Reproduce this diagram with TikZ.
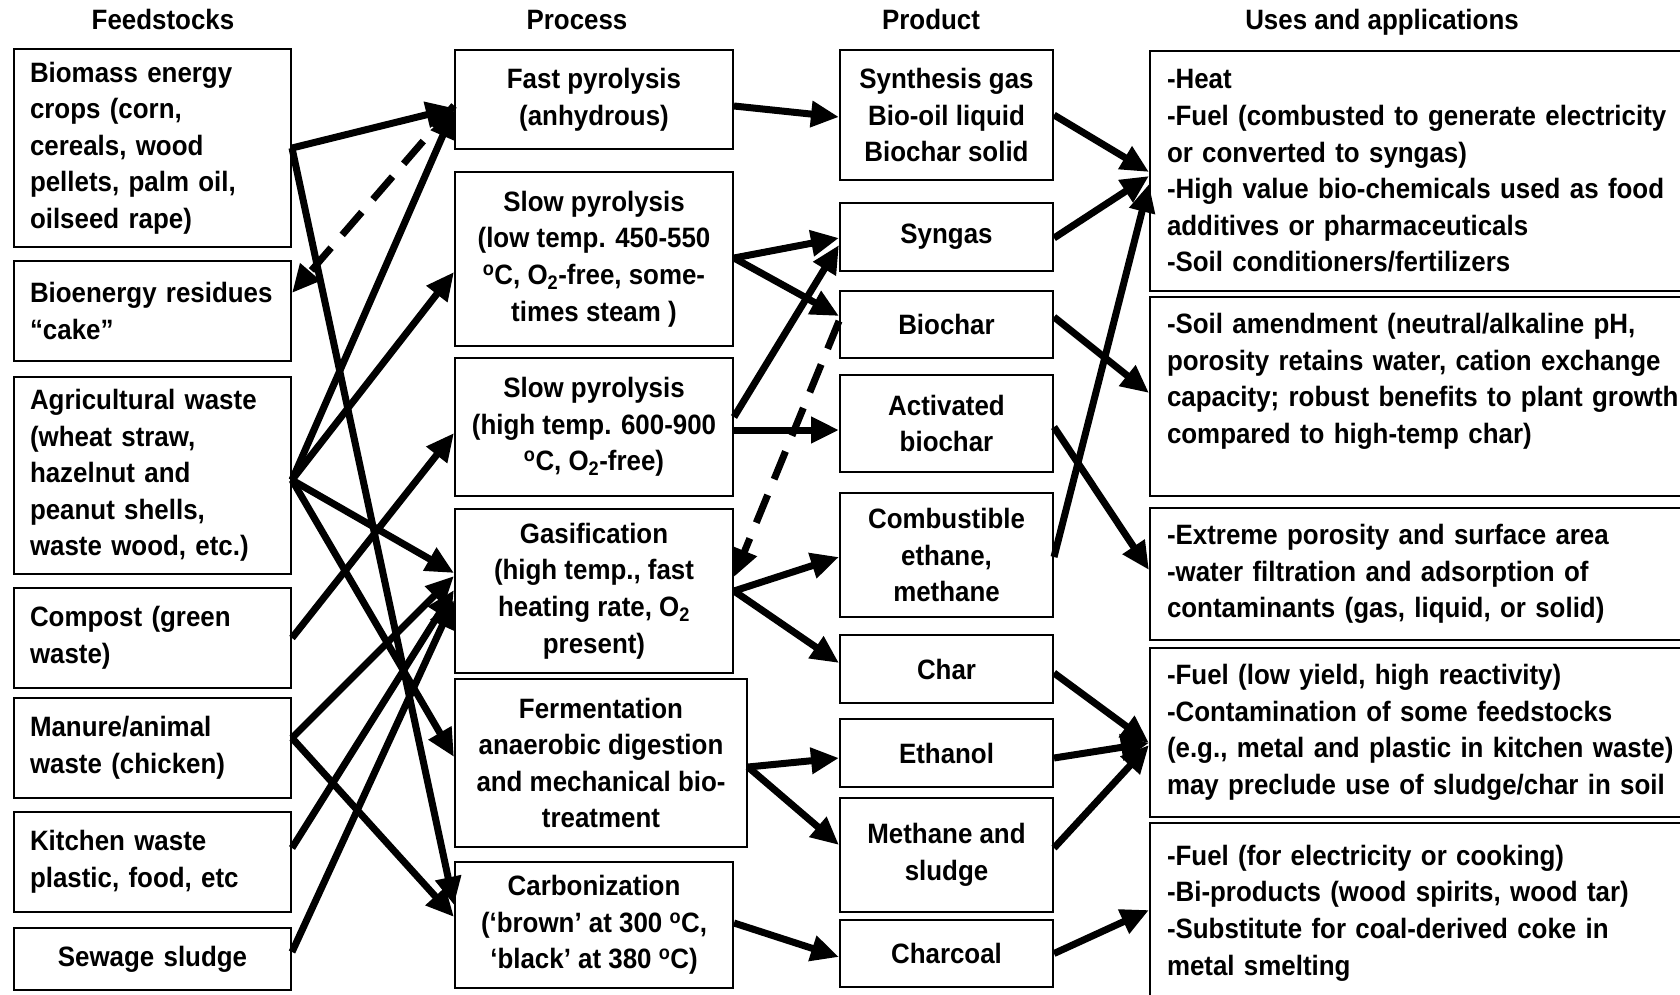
\documentclass[tikz,border=0pt]{standalone}
\usepackage{fontspec}
\setmainfont{Liberation Sans}[FakeStretch=0.925]
\usetikzlibrary{arrows.meta}

\begin{document}
\begin{tikzpicture}[x=1pt, y=-1pt,
  every node/.style={font=\bfseries\fontsize{28}{36.6}\selectfont},
  head/.style={anchor=base},
  feed/.style={draw, line width=2pt, text width=245pt, inner xsep=16pt, inner ysep=0pt, align=left},
  proc/.style={draw, line width=2pt, minimum width=278pt, inner sep=0pt, align=center},
  prod/.style={draw, line width=2pt, minimum width=213pt, inner sep=0pt, align=center},
  uses/.style={draw, line width=2pt, text width=520pt, inner xsep=17pt, inner ysep=0pt, align=left},
  arr/.style={line width=7pt, -{Triangle[length=28pt,width=25pt]}},
  dasharr/.style={arr, dash pattern=on 30pt off 17pt}]
\useasboundingbox (0,0) rectangle (1680,995);
% column heads
\node[head] (hfeed) at (163,30) {Feedstocks};
\node[head] (hproc) at (577,30) {Process};
\node[head] (hprod) at (931,30) {Product};
\node[head] (huses) at (1382,30) {Uses and applications};
% feedstocks
\node[feed, minimum height=198pt] (bio) at (152.5,148) {Biomass energy\\crops (corn,\\cereals, wood\\pellets, palm oil,\\oilseed rape)};
\node[feed, minimum height=100pt] (resid) at (152.5,311) {\mbox{Bioenergy residues}\\“cake”};
\node[feed, minimum height=197pt] (agri) at (152.5,475.5) {Agricultural waste\\(wheat straw,\\hazelnut and\\peanut shells,\\waste wood, etc.)};
\node[feed, minimum height=100pt] (compost) at (152.5,638) {Compost (green\\waste)};
\node[feed, minimum height=100pt] (manure) at (152.5,748) {Manure/animal\\waste (chicken)};
\node[feed, minimum height=100pt] (kitchen) at (152.5,862) {Kitchen waste\\plastic, food, etc};
\node[feed, minimum height=62pt, align=center] (sewage) at (152.5,959) {Sewage sludge};
% processes
\node[proc, minimum height=99pt] (fast) at (594,99.5) {Fast pyrolysis\\(anhydrous)};
\node[proc, minimum height=174pt] (slowlow) at (594,259) {Slow pyrolysis\\(low temp. 450-550\\\textsuperscript{o}C, O\textsubscript{2}-free, some-\\times steam )};
\node[proc, minimum height=138pt] (slowhigh) at (594,427) {Slow pyrolysis\\(high temp. 600-900\\\textsuperscript{o}C, O\textsubscript{2}-free)};
\node[proc, minimum height=164pt] (gasif) at (594,591) {Gasification\\(high temp., fast\\heating rate, O\textsubscript{2}\\present)};
\node[proc, minimum height=168pt, minimum width=292pt] (ferment) at (601,763) {Fermentation\\anaerobic digestion\\and mechanical bio-\\treatment};
\node[proc, minimum height=126pt] (carbon) at (594,925) {Carbonization\\(‘brown’ at 300 \textsuperscript{o}C,\\‘black’ at 380 \textsuperscript{o}C)};
% products
\node[prod, minimum height=130pt] (synth) at (946.5,115) {Synthesis gas\\Bio-oil liquid\\Biochar solid};
\node[prod, minimum height=68pt] (syngas) at (946.5,237) {Syngas};
\node[prod, minimum height=67pt] (biochar) at (946.5,324.5) {Biochar};
\node[prod, minimum height=97pt] (activ) at (946.5,423.5) {Activated\\biochar};
\node[prod, minimum height=124pt] (combust) at (946.5,555) {Combustible\\ethane,\\methane};
\node[prod, minimum height=68pt] (char) at (946.5,669) {Char};
\node[prod, minimum height=68pt] (ethanol) at (946.5,753) {Ethanol};
\node[prod, minimum height=114pt] (methane) at (946.5,855) {Methane and\\sludge};
\node[prod, minimum height=67pt] (charcoal) at (946.5,953.5) {Charcoal};
% uses and applications
\node[uses, minimum height=240pt] (heat) at (1427,171) {-Heat\\-Fuel (combusted to generate electricity\\or converted to syngas)\\-High value bio-chemicals used as food\\additives or pharmaceuticals\\-Soil conditioners/fertilizers};
\node[uses, minimum height=199pt] (soil) at (1427,396.5) {-Soil amendment (neutral/alkaline pH,\\porosity retains water, cation exchange\\capacity; robust benefits to plant growth\\compared to high-temp char)\\\mbox{}};
\node[uses, minimum height=132pt] (porous) at (1427,574) {-Extreme porosity and surface area\\-water filtration and adsorption of\\contaminants (gas, liquid, or solid)};
\node[uses, minimum height=169pt] (fuel) at (1427,732.5) {-Fuel (low yield, high reactivity)\\-Contamination of some feedstocks\\(e.g., metal and plastic in kitchen waste)\\may preclude use of sludge/char in soil};
\node[uses, minimum height=180pt] (coal) at (1427,913) {-Fuel (for electricity or cooking)\\-Bi-products (wood spirits, wood tar)\\-Substitute for coal-derived coke in\\metal smelting};
% feedstocks to processes
\draw[arr] (bio.east) -- ([yshift=-8.5pt]fast.west);
\draw[arr] (bio.east) -- ([yshift=20pt]carbon.west);
\draw[dasharr] ([yshift=-6pt]fast.west) -- ([yshift=18pt]resid.east);
\draw[arr] ([yshift=-4.5pt]agri.east) -- ([yshift=-10.5pt]fast.west);
\draw[arr] ([yshift=-4.5pt]agri.east) -- ([yshift=-13pt]slowlow.west);
\draw[arr] ([yshift=-4.5pt]agri.east) -- ([yshift=18pt]gasif.west);
\draw[arr] ([yshift=-4.5pt]agri.east) -- ([yshift=6pt]ferment.west);
\draw[arr] (compost.east) -- ([yshift=-6pt]slowhigh.west);
\draw[arr] ([yshift=10pt]manure.east) -- ([yshift=15pt]gasif.west);
\draw[arr] ([yshift=10pt]manure.east) -- ([yshift=8pt]carbon.west);
\draw[arr] ([yshift=14pt]kitchen.east) -- ([yshift=1pt]gasif.west);
\draw[arr] ([yshift=7pt]sewage.east) -- ([yshift=-9pt]gasif.west);
% processes to products
\draw[arr] ([yshift=-6.5pt]fast.east) -- ([yshift=-2pt]synth.west);
\draw[arr] ([yshift=1pt]slowlow.east) -- ([yshift=-1pt]syngas.west);
\draw[arr] ([yshift=1pt]slowlow.east) -- ([yshift=8.5pt]biochar.west);
\draw[arr] ([yshift=10pt]slowhigh.east) -- ([yshift=-8pt]syngas.west);
\draw[arr] ([yshift=-3pt]slowhigh.east) -- ([yshift=-6.5pt]activ.west);
\draw[dasharr] ([yshift=3.5pt]biochar.west) -- ([yshift=14pt]gasif.east);
\draw[arr] (gasif.east) -- ([yshift=-2pt]combust.west);
\draw[arr] (gasif.east) -- ([yshift=6pt]char.west);
\draw[arr] ([yshift=-4pt]ferment.east) -- ([yshift=-5pt]ethanol.west);
\draw[arr] ([yshift=-4pt]ferment.east) -- ([yshift=10pt]methane.west);
\draw[arr] ([yshift=2pt]carbon.east) -- ([yshift=-3.5pt]charcoal.west);
% products to uses
\draw[arr] (synth.east) -- ([yshift=-1pt]heat.west);
\draw[arr] ([yshift=-1pt]syngas.east) -- ([yshift=-5pt]heat.west);
\draw[arr] ([yshift=-2pt]combust.east) -- ([yshift=-13pt]heat.west);
\draw[arr] ([yshift=7.5pt]biochar.east) -- ([yshift=3.5pt]soil.west);
\draw[arr] ([yshift=-3.5pt]activ.east) -- ([yshift=4pt]porous.west);
\draw[arr] ([yshift=-4pt]char.east) -- ([yshift=-10.5pt]fuel.west);
\draw[arr] ([yshift=-5pt]ethanol.east) -- ([yshift=-10.5pt]fuel.west);
\draw[arr] ([yshift=7pt]methane.east) -- ([yshift=-12.5pt]fuel.west);
\draw[arr] (charcoal.east) -- ([yshift=3pt]coal.west);
\end{tikzpicture}
\end{document}
